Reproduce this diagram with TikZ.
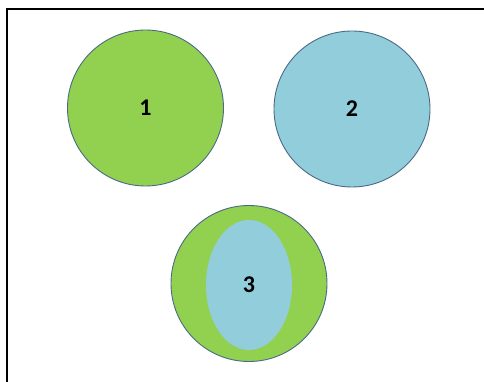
\documentclass[tikz,border=0pt]{standalone}
\usepackage{fontspec}
\setmainfont{Carlito}
\usepackage{xcolor}
\usepackage{tikz}
\usetikzlibrary{shapes.geometric,positioning}
\definecolor{greenfill}{HTML}{92D050}
\definecolor{bluefill}{HTML}{92CDDC}
\definecolor{rimblue}{HTML}{4A6B85}
\tikzset{every node/.append style={font=\fontsize{24}{26}\selectfont\bfseries}}
\tikzset{
  disc/.style={circle,draw=rimblue,line width=0.9pt,minimum size=156pt,inner sep=0pt},
  oval/.style={ellipse,minimum width=86pt,minimum height=130pt,inner sep=0pt}
}

\begin{document}
\begin{tikzpicture}[x=1pt,y=-1pt]
  \useasboundingbox (0,0) rectangle (484,382);
  \fill[white] (0,0) rectangle (484,382);
  \draw[line width=2.2pt] (7,382) -- (7,9) -- (484,9);
  \node[disc,fill=greenfill] (one) at (145.5,108) {1};
  \node[disc,fill=bluefill] (two) at (352,109) {2};
  \node[disc,fill=greenfill] (three) at (249,283.5) {};
  \node[oval,fill=bluefill] (inner) at (249,285) {3};
\end{tikzpicture}
\end{document}
